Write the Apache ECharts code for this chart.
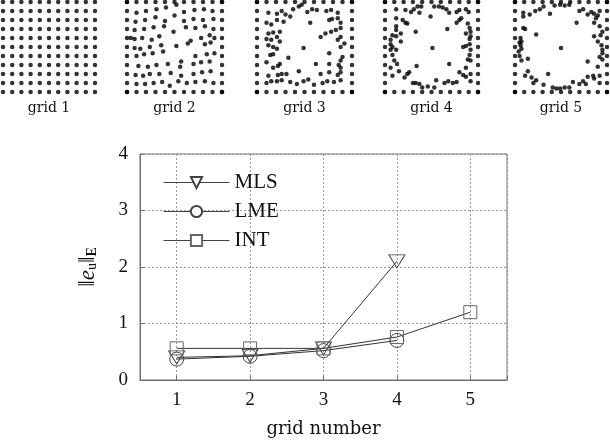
<!DOCTYPE html>
<html><head><meta charset="utf-8">
<script src="https://cdn.jsdelivr.net/npm/echarts@6/dist/echarts.min.js"></script>
<style>html,body{margin:0;padding:0;background:#fff}#c{width:610px;height:443px}</style>
</head><body><div id="c"></div>
<script>
// ---- main chart data ----
const gridNumbers = [1, 2, 3, 4, 5];
const seriesNames = ['MLS', 'LME', 'INT'];
const mlsValues = [0.40, 0.43, 0.56, 2.10];
const lmeValues = [0.37, 0.42, 0.52, 0.70];
const intValues = [0.56, 0.56, 0.56, 0.76, 1.20];
const yTicks = [0, 1, 2, 3, 4];
const xLabel = 'grid number';

// ---- node-distribution thumbnails (units 0..100, y measured from top) ----
const thumbLabels = ['grid 1', 'grid 2', 'grid 3', 'grid 4', 'grid 5'];
const latticeLines = [0, 10, 20, 30, 40, 50, 60, 70, 80, 90, 100];
const grid2Interior = [
  [10,12],[20,10],[31,8],[41,6],[52,3],[60,11],[71,9],[81,8],[90,10],
  [9,22],[19,20],[30,17],[40,21],[50,15],[60,21],[70,19],[80,20],[91,19],
  [8,31],[18,30],[28,28],[39,27],[49,33],[62,28],[72,29],[82,27],[91,30],
  [4,40],[8,41],[16,40],[26,42],[34,38],[67,43],[78,40],[87,37],[92,40],
  [8,51],[14,52],[24,50],[36,48],[52,49],[64,46],[82,47],[88,45],
  [10,60],[18,58],[27,57],[38,55],[57,66],[72,60],[84,58],[92,57],
  [12,71],[22,72],[31,70],[43,69],[56,72],[70,69],[78,67],[87,66],
  [9,81],[17,82],[24,80],[34,80],[46,79],[57,82],[70,80],[79,78],[88,77],
  [10,91],[19,91],[28,90],[37,89],[45,93],[54,88],[63,90],[72,89],[82,88],[91,90]
];
const grid3Interior = [
  [12,12],[21,13],[30,14],[26,10],[38,8],[44,5],[47,3],[53,11],[58,8],[63,9],[73,10],[78,9],[85,12],
  [10,23],[15,25],[21,20],[28,22],[35,16],[56,23],[76,20],[79,19],[85,18],[88,23],
  [12,35],[17,34],[24,33],[72,35],[78,33],[83,31],[88,29],
  [10,41],[15,42],[21,39],[24,44],[67,39],[85,42],[88,39],
  [49,51],[76,57],[12,48],[17,50],[21,52],[88,50],[92,46],
  [14,59],[17,58],[33,62],[90,61],[88,65],
  [10,67],[17,73],[22,71],[24,69],[62,69],[76,69],[86,70],[88,73],
  [12,82],[22,81],[26,80],[31,80],[44,77],[67,80],[76,78],[85,81],[88,78],
  [10,90],[15,88],[21,88],[26,87],[35,89],[42,91],[49,88],[54,86],[60,92],[69,90],[74,88],[81,89],[88,87]
];
const grid4Interior = [
  [12,8],[22,9],[28,11],[31,8],[35,5],[39,5],[37,12],[49,16],[53,5],[58,5],[62,6],[66,8],[69,12],[77,11],[80,9],[87,8],[90,11],
  [12,18],[19,20],[22,23],[24,24],[33,33],[67,30],[77,23],[80,20],[82,18],[89,24],[91,29],[92,33],
  [12,27],[12,31],[8,37],[12,38],[17,35],[87,35],[92,38],[91,41],
  [6,42],[6,47],[8,50],[12,53],[6,53],[17,44],[51,51],[84,50],[87,49],[91,47],[92,53],
  [8,59],[10,65],[13,69],[15,77],[6,73],[34,71],[69,69],[91,59],[89,64],[92,65],[87,73],
  [8,82],[21,84],[24,80],[26,78],[30,90],[33,90],[37,91],[40,95],[46,94],[53,95],[55,87],[64,90],[68,88],[73,90],[77,89],[80,78],[84,81],[87,83],[92,80],[92,88]
];
const grid5Interior = [
  [9,12],[9,16],[16,14],[22,10],[27,8],[31,5],[38,13],[43,4],[49,3],[54,4],[59,3],[70,10],[74,8],[79,14],[83,11],[86,13],[88,18],[90,15],[92,10],[86,23],[92,27],
  [9,29],[11,30],[23,36],[67,23],[86,38],[93,37],[95,33],
  [6,40],[5,45],[7,44],[6,48],[7,52],[4,55],[50,51],[90,44],[94,48],[95,53],[95,57],
  [5,60],[7,65],[14,63],[79,66],[92,61],[95,64],[90,72],
  [14,77],[11,82],[18,84],[20,90],[23,87],[31,92],[36,80],[63,89],[70,91],[74,88],[77,91],[79,83],[85,82],[86,85],[92,82],[92,90],
  [41,95],[45,96],[49,96],[54,95],[59,95]
];

// boundary nodes and full lattice from lattice lines
const boundary = [];
latticeLines.forEach(t => { boundary.push([t,0],[t,100],[0,t],[100,t]); });
const lattice = [];
latticeLines.forEach(a => latticeLines.forEach(b => lattice.push([a,b])));
const thumbData = [lattice, boundary.concat(grid2Interior), boundary.concat(grid3Interior),
  boundary.concat(grid4Interior), boundary.concat(grid5Interior)];

// ---- layout ----
const thumbBoxes = [[3,92],[127,95],[257,95],[385,93],[515,92]];
const serif = 'Liberation Serif';
const cmLike = 'DejaVu Serif';

const grids = [{left:140, top:154, width:367, height:230, show:true, borderColor:'#707070', borderWidth:1}];
const xAxes = [{
  gridIndex:0, type:'value', min:0.5, max:5.5, splitNumber:5,
  axisLine:{lineStyle:{color:'#707070'}},
  axisTick:{inside:true, length:4, lineStyle:{color:'#707070'}},
  axisLabel:{formatter:v => gridNumbers.includes(v) ? String(v) : '', fontFamily:serif, fontSize:19, color:'#111', margin:11},
  splitLine:{show:true, lineStyle:{type:[2,2], color:'#999', width:1}},
  name:xLabel, nameLocation:'middle', nameGap:40,
  nameTextStyle:{fontFamily:cmLike, fontSize:18, color:'#111'}
}];
const yAxes = [{
  gridIndex:0, type:'value', min:yTicks[0], max:yTicks[yTicks.length-1], interval:1,
  axisLine:{lineStyle:{color:'#707070'}},
  axisTick:{inside:true, length:4, lineStyle:{color:'#707070'}},
  axisLabel:{fontFamily:serif, fontSize:19, color:'#111', margin:12},
  splitLine:{show:true, lineStyle:{type:[2,2], color:'#999', width:1}},
  name:'{d|‖}{e|e}{s|u}{d|‖}{b|E}', nameLocation:'middle', nameGap:41, nameRotate:90,
  nameTextStyle:{rich:{
    d:{fontFamily:serif, fontSize:23, color:'#111'},
    e:{fontFamily:serif, fontSize:23, fontStyle:'italic', color:'#111'},
    s:{fontFamily:serif, fontSize:14, color:'#111', verticalAlign:'bottom'},
    b:{fontFamily:serif, fontSize:14, fontWeight:'bold', color:'#111', verticalAlign:'bottom'}
  }}
}];
const series = [];
thumbBoxes.forEach((b, i) => {
  grids.push({left:b[0], width:b[1], top:2, height:90, show:false});
  xAxes.push({gridIndex:i+1, type:'value', min:0, max:100,
    axisLine:{show:false}, axisTick:{show:false}, axisLabel:{show:false}, splitLine:{show:false},
    name:thumbLabels[i], nameLocation:'middle', nameGap:9,
    nameTextStyle:{fontFamily:cmLike, fontSize:14, color:'#111', verticalAlign:'top'}});
  yAxes.push({gridIndex:i+1, type:'value', min:0, max:100, inverse:true, show:false});
  series.push({type:'scatter', xAxisIndex:i+1, yAxisIndex:i+1, data:thumbData[i],
    symbolSize:4.5, itemStyle:{color:'#000'}, silent:true, animation:false});
});

function lineSeries(name, vals, symbol, size, rot, col) {
  return {type:'line', name, xAxisIndex:0, yAxisIndex:0,
    data: vals.map((v, k) => [gridNumbers[k], v]),
    symbol, symbolSize:size, symbolRotate:rot, showAllSymbol:true,
    lineStyle:{color:'#333', width:1},
    itemStyle:{color:'rgba(255,255,255,0)', borderColor:col, borderWidth:1},
    animation:false};
}
series.push(lineSeries(seriesNames[0], mlsValues, 'triangle', [16,13], 180, '#444'));
series.push(lineSeries(seriesNames[1], lmeValues, 'circle', 14, 0, '#444'));
series.push(lineSeries(seriesNames[2], intValues, 'rect', 13, 0, '#666'));

const chart = echarts.init(document.getElementById('c'), null, {renderer:'canvas'});
chart.setOption({
  animation:false,
  backgroundColor:'#fff',
  grid:grids, xAxis:xAxes, yAxis:yAxes, series,
  legend:{data:seriesNames, orient:'vertical', left:158, top:167, itemWidth:66, itemHeight:14, itemGap:8,
    itemStyle:{color:'#fff'},
    lineStyle:{width:1, color:'#444'},
    textStyle:{fontFamily:serif, fontSize:21, color:'#111'}}
});
</script></body></html>
